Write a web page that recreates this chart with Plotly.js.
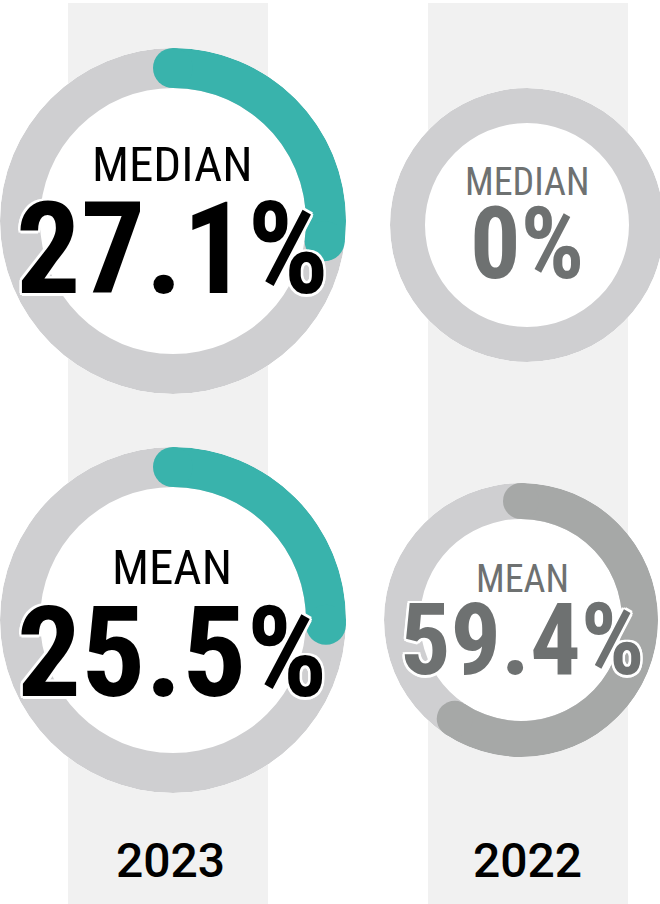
<!DOCTYPE html>
<html>
<head>
<meta charset="utf-8">
<script src="https://cdn.plot.ly/plotly-3.0.1.min.js"></script>
<style>html,body{margin:0;padding:0;background:#fff;overflow:hidden;width:660px;height:904px;}#chart{width:670px;height:904px;}</style>
</head>
<body>
<div id="chart"></div>
<script>
// ---- data ----
const years = ['2023', '2022'];
const metrics = ['MEDIAN', 'MEAN'];
const medianValues = [27.1, 0];
const meanValues = [25.5, 59.4];

// ---- styling / layout ----
const W = 670, H = 904; // canvas is a little wider than the 660px window so the right ring is cut like the reference
const FONT = '"Roboto Condensed", "Liberation Sans Narrow", "DejaVu Sans Condensed", Roboto, sans-serif';
const YEAR_FONT = 'Roboto, "Open Sans", sans-serif';
const TEAL = '#39b3ac', RING = '#cfcfd1', DARK = '#a6a8a7', BAND = '#f1f1f1';
const TXT = ['#000000', '#6e7171'];
const ARC = [TEAL, DARK];
const OUTLINE = '-2px -2px 0 #fff, 2px -2px 0 #fff, -2px 2px 0 #fff, 2px 2px 0 #fff, 0 2.5px 0 #fff, 0 -2.5px 0 #fff, 2.5px 0 0 #fff, -2.5px 0 0 #fff';

// ring geometry per [year][metric]: center x, center y, outer radius, inner radius (px)
const geom = [
  [{cx: 173, cy: 221, R: 173, r: 133}, {cx: 173, cy: 620, R: 173, r: 133}],
  [{cx: 527, cy: 225, R: 137, r: 102}, {cx: 521, cy: 620, R: 137, r: 101}]
];
// text positions per [year][metric]: x, label cap-center y, value cap-center y, sizes
const textPos = [
  [{x: 172, ly: 164.5, vy: 249, ls: 49, vs: 128}, {x: 172, ly: 567.5, vy: 652, ls: 49, vs: 127}],
  [{x: 527, ly: 181.5, vy: 243.5, ls: 38, vs: 100}, {x: 522, ly: 578.5, vy: 639, ls: 38, vs: 100}]
];
const bandX = [[68, 268], [428, 628]];
const yearX = [170, 527];

const data = [];
const layout = {
  width: W, height: H,
  margin: {l: 0, r: 0, t: 0, b: 0},
  paper_bgcolor: '#ffffff',
  showlegend: false,
  shapes: [],
  annotations: []
};

let pi = 0;
years.forEach((yr, yi) => {
  layout.shapes.push({
    type: 'rect', xref: 'paper', yref: 'paper', layer: 'below',
    x0: bandX[yi][0] / W, x1: bandX[yi][1] / W, y0: 0, y1: 1 - 3 / H,
    fillcolor: BAND, line: {width: 0}
  });
  layout.annotations.push({
    xref: 'paper', yref: 'paper', x: yearX[yi] / W, y: 1 - 860 / H,
    xanchor: 'center', yanchor: 'middle', showarrow: false, text: yr,
    font: {family: YEAR_FONT, size: 48, color: '#000', weight: 500}
  });
  metrics.forEach((m, mi) => {
    pi += 1;
    const key = pi === 1 ? 'polar' : 'polar' + pi;
    const g = geom[yi][mi];
    const inner = g.r / g.R;
    const thick = g.R - g.r;
    const v = (mi === 0 ? medianValues : meanValues)[yi];
    layout[key] = {
      domain: {x: [(g.cx - g.R) / W, (g.cx + g.R) / W], y: [(H - g.cy - g.R) / H, (H - g.cy + g.R) / H]},
      bgcolor: '#ffffff',
      hole: 0,
      radialaxis: {visible: false, range: [0, 1]},
      angularaxis: {visible: false, rotation: 90, direction: 'clockwise', showgrid: false, showline: false, ticks: ''}
    };
    // full ring
    data.push({
      type: 'barpolar', subplot: key, r: [1 - inner], base: [inner], theta: [180], width: [360],
      marker: {color: RING, line: {width: 0}}, hoverinfo: 'skip'
    });
    if (v > 0) {
      data.push({
        type: 'barpolar', subplot: key, r: [1 - inner], base: [inner], theta: [v * 3.6 / 2], width: [v * 3.6],
        marker: {color: ARC[yi], line: {width: 0}}, hoverinfo: 'skip'
      });
      data.push({
        type: 'scatterpolar', subplot: key, mode: 'markers', r: [(1 + inner) / 2, (1 + inner) / 2], theta: [0, v * 3.6],
        marker: {size: thick, color: ARC[yi], line: {width: 0}}, hoverinfo: 'skip', cliponaxis: false
      });
    }
    const t = textPos[yi][mi];
    layout.annotations.push({
      xref: 'paper', yref: 'paper', x: t.x / W, y: 1 - t.ly / H,
      xanchor: 'center', yanchor: 'middle', showarrow: false, text: m,
      font: {family: FONT, size: t.ls, color: TXT[yi]}
    });
    layout.annotations.push({
      xref: 'paper', yref: 'paper', x: t.x / W, y: 1 - t.vy / H,
      xanchor: 'center', yanchor: 'middle', showarrow: false, text: v + '%',
      font: {family: FONT, size: t.vs, color: TXT[yi], weight: 'bold', shadow: OUTLINE}
    });
  });
});

Plotly.newPlot('chart', data, layout, {displayModeBar: false, staticPlot: true});
</script>
</body>
</html>
